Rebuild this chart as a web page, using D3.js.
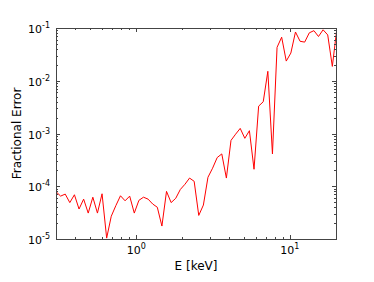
<!DOCTYPE html>
<html>
<head>
<meta charset="utf-8">
<script src="https://cdn.jsdelivr.net/npm/d3@7"></script>
<style>
  body { margin: 0; background: #fff; }
  text { font-family: "DejaVu Sans", sans-serif; fill: #000; }
</style>
</head>
<body>
<div id="chart"></div>
<script>
// energies [keV]
var energy = [0.300, 0.3215, 0.3445, 0.369, 0.3955, 0.4238, 0.4541, 0.4865, 0.5213, 0.5586,
              0.5986, 0.6414, 0.6872, 0.7364, 0.789, 0.8455, 0.9059, 0.9707, 1.040, 1.1145,
              1.194, 1.280, 1.371, 1.469, 1.574, 1.687, 1.807, 1.937, 2.075, 2.224,
              2.383, 2.553, 2.736, 2.931, 3.141, 3.366, 3.606, 3.864, 4.140, 4.437,
              4.754, 5.094, 5.458, 5.848, 6.267, 6.715, 7.195, 7.710, 8.261, 8.852,
              9.485, 10.16, 10.89, 11.67, 12.50, 13.40, 14.36, 15.38, 16.48, 17.66,
              18.93, 20.28];
// fractional error
var fracErr = [7.9e-5, 6.5e-5, 7.1e-5, 4.9e-5, 6.9e-5, 3.7e-5, 5.7e-5, 3.1e-5, 6.2e-5, 3.1e-5,
               7.2e-5, 1.04e-5, 2.7e-5, 4.3e-5, 6.6e-5, 5.3e-5, 6.5e-5, 3.1e-5, 5.4e-5, 6.2e-5,
               5.7e-5, 4.6e-5, 4.0e-5, 1.76e-5, 8.0e-5, 4.9e-5, 5.9e-5, 8.7e-5, 1.09e-4, 1.43e-4,
               1.24e-4, 2.8e-5, 4.4e-5, 1.48e-4, 2.2e-4, 3.5e-4, 4.1e-4, 1.43e-4, 7.4e-4, 9.7e-4,
               1.25e-3, 8.1e-4, 1.13e-3, 2.1e-4, 3.3e-3, 4.0e-3, 1.51e-2, 4.1e-4, 4.3e-2, 6.7e-2,
               2.36e-2, 3.35e-2, 8.4e-2, 5.6e-2, 5.4e-2, 8.1e-2, 8.9e-2, 6.9e-2, 9.25e-2, 7.4e-2,
               1.87e-2, 1.0e-1];

var xDomain = [0.3, 20];
var yDomain = [1e-5, 1e-1];
var xMajor = [1, 10];
var yMajor = [1e-5, 1e-4, 1e-3, 1e-2, 1e-1];

var width = 374, height = 282;
var margin = {left: 56, right: 38, top: 28, bottom: 43};

var svg = d3.select("#chart").append("svg").attr("width", width).attr("height", height);

var x = d3.scaleLog().domain(xDomain).range([margin.left, width - margin.right]);
var y = d3.scaleLog().domain(yDomain).range([height - margin.bottom, margin.top]);

var x0 = margin.left, x1 = width - margin.right;
var y0 = height - margin.bottom, y1 = margin.top;

svg.append("clipPath").attr("id", "clip")
    .append("rect").attr("x", x0).attr("y", y1).attr("width", x1 - x0).attr("height", y0 - y1);

// data line
var line = d3.line().x(function (d, i) { return x(energy[i]); }).y(function (d) { return y(d); });
svg.append("path").datum(fracErr)
    .attr("clip-path", "url(#clip)")
    .attr("d", line)
    .attr("fill", "none").attr("stroke", "#ff0000").attr("stroke-width", 1);

// ticks, inward on all four sides
var ticks = svg.append("g").attr("stroke", "#444").attr("stroke-width", 1);
var xMinor = x.ticks().filter(function (t) { return xMajor.indexOf(t) < 0; });
var yMinor = y.ticks().filter(function (t) { return yMajor.indexOf(t) < 0; });

function xTick(t, len) {
    var px = Math.round(x(t)) + 0.5;
    ticks.append("line").attr("x1", px).attr("x2", px).attr("y1", y0).attr("y2", y0 - len);
    ticks.append("line").attr("x1", px).attr("x2", px).attr("y1", y1).attr("y2", y1 + len);
}
function yTick(t, len) {
    var py = Math.round(y(t)) + 0.5;
    ticks.append("line").attr("x1", x0).attr("x2", x0 + len).attr("y1", py).attr("y2", py);
    ticks.append("line").attr("x1", x1).attr("x2", x1 - len).attr("y1", py).attr("y2", py);
}
xMinor.forEach(function (t) { xTick(t, 2); });
xMajor.forEach(function (t) { xTick(t, 4); });
yMinor.forEach(function (t) { yTick(t, 2); });
yMajor.forEach(function (t) { yTick(t, 4); });

// frame
svg.append("rect").attr("x", x0 + 0.5).attr("y", y1 + 0.5)
    .attr("width", x1 - x0).attr("height", y0 - y1)
    .attr("fill", "none").attr("stroke", "#444").attr("stroke-width", 1);

// tick labels as 10^n
function powLabel(sel, t) {
    var e = Math.round(Math.log10(t));
    sel.append("tspan").text("10");
    sel.append("tspan").attr("font-size", 8).attr("dy", -5).text(e < 0 ? "-" + (-e) : e);
}
xMajor.forEach(function (t) {
    var tx = svg.append("text").attr("x", x(t)).attr("y", y0 + 15)
        .attr("text-anchor", "middle").attr("font-size", 11);
    powLabel(tx, t);
});
yMajor.forEach(function (t) {
    var tx = svg.append("text").attr("x", x0 - 6).attr("y", y(t) + 5)
        .attr("text-anchor", "end").attr("font-size", 11);
    powLabel(tx, t);
});

// axis titles
svg.append("text").attr("x", (x0 + x1) / 2).attr("y", 270)
    .attr("text-anchor", "middle").attr("font-size", 12).text("E [keV]");
svg.append("text").attr("transform", "translate(21," + ((y0 + y1) / 2) + ") rotate(-90)")
    .attr("text-anchor", "middle").attr("font-size", 12).text("Fractional Error");
</script>
</body>
</html>
